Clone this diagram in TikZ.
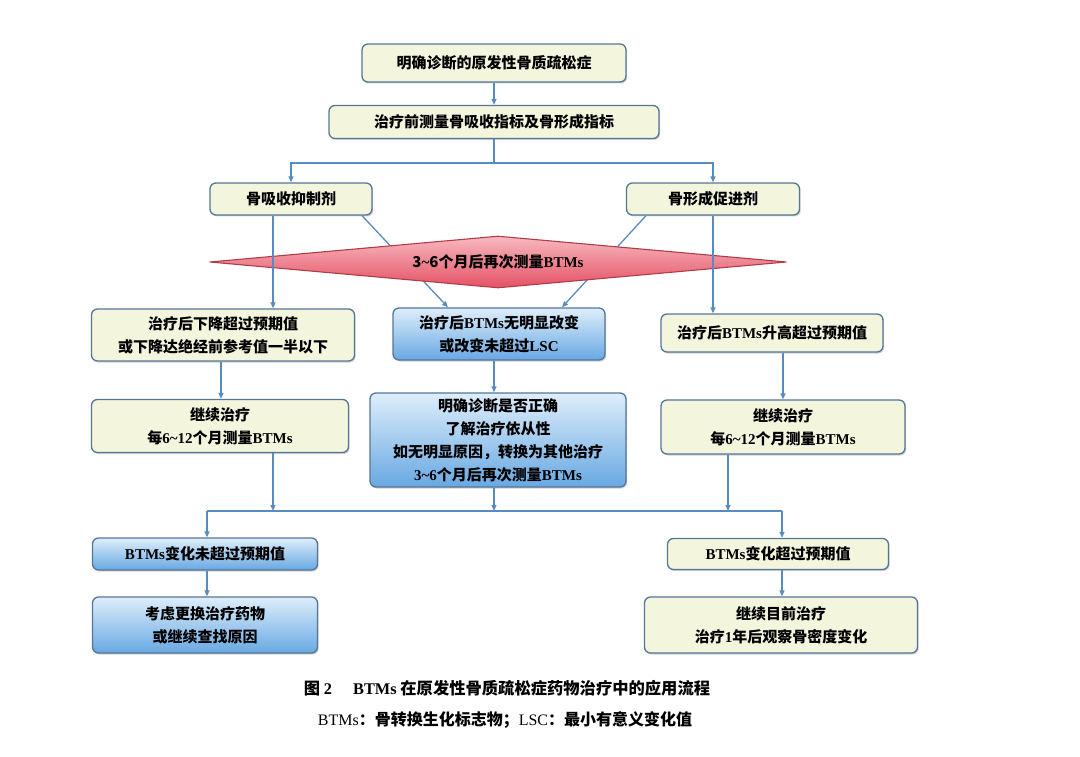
\documentclass[tikz,border=0pt]{standalone}
\usepackage{fontspec}
\setmainfont{Liberation Serif}
\newfontfamily\cjk{Noto Sans CJK SC}
\usetikzlibrary{arrows.meta,shapes.geometric,shadows}
\newcommand\lat[1]{{\rmfamily\bfseries #1}}
\definecolor{creamfill}{RGB}{243,245,221}
\definecolor{boxline}{RGB}{84,118,152}
\definecolor{conn}{RGB}{88,140,192}
\definecolor{bluetop}{RGB}{222,238,251}
\definecolor{bluebot}{RGB}{104,168,226}
\definecolor{pinktop}{RGB}{248,184,192}
\definecolor{pinkbot}{RGB}{228,82,100}
\definecolor{pinkline}{RGB}{176,60,72}
\begin{document}
\begin{tikzpicture}[x=1pt,y=-1pt,
  base/.style={draw=boxline, line width=1.3pt, rounded corners=6pt, align=center,
    inner sep=0pt, font=\cjk\bfseries\fontsize{15}{23}\selectfont,
    drop shadow={shadow xshift=1.2pt, shadow yshift=-1.5pt, opacity=0.18, fill=black}},
  ybox/.style={base, fill=creamfill},
  bbox/.style={base, top color=bluetop, bottom color=bluebot},
  dia/.style={diamond, aspect=11, inner sep=0pt, draw=pinkline, line width=1.1pt,
    top color=pinktop, bottom color=pinkbot, font=\cjk\bfseries\fontsize{15}{20}\selectfont},
  con/.style={draw=conn, line width=1.3pt},
  arr/.style={con, -{Triangle[length=6pt,width=5pt]}}
]
\useasboundingbox (0,0) rectangle (1080,757);

% coordinates for vertical connector positions
\coordinate (xl) at (273,0);
\coordinate (xa) at (221,0);
\coordinate (xm) at (494,0);
\coordinate (xr) at (728,0);
\coordinate (xb) at (783,0);
\coordinate (dl1) at (362,0);
\coordinate (dl2) at (448,0);
\coordinate (dr1) at (646,0);
\coordinate (dr2) at (562,0);
\coordinate (split) at (494,163);
\coordinate (mL) at (207,511);
\coordinate (mR) at (782,511);
\coordinate (mM) at (494,511);

% nodes
\node[ybox, minimum width=264pt, minimum height=38pt] (n1) at (494,63) {明确诊断的原发性骨质疏松症};
\node[ybox, minimum width=330pt, minimum height=33pt] (n2) at (494,122) {治疗前测量骨吸收指标及骨形成指标};
\node[ybox, minimum width=162pt, minimum height=32pt] (n3) at (291,199) {骨吸收抑制剂};
\node[ybox, minimum width=173pt, minimum height=32pt] (n4) at (713,199) {骨形成促进剂};

\node[bbox, minimum width=212pt, minimum height=52pt] (m2) at (499,334) {治疗后\lat{BTMs}无明显改变\\或改变未超过\lat{LSC}};

% diagonals go under the diamond
\draw[arr] (n3.south -| dl1) -- (m2.north -| dl2);
\draw[arr] (n4.south -| dr1) -- (m2.north -| dr2);

\node[dia, minimum width=577pt, minimum height=52pt] (d) at (498,262) {3\lat{\textasciitilde}6个月后再次测量\lat{BTMs}};

\node[ybox, minimum width=263pt, minimum height=52pt] (m1) at (223,335) {治疗后下降超过预期值\\或下降达绝经前参考值一半以下};
\node[ybox, minimum width=222pt, minimum height=38pt] (m3) at (772,333) {治疗后\lat{BTMs}升高超过预期值};

\node[ybox, minimum width=257pt, minimum height=53pt] (r1) at (220,426) {继续治疗\\每\lat{6\textasciitilde 12}个月测量\lat{BTMs}};
\node[bbox, minimum width=256pt, minimum height=94pt] (r2) at (498,440) {明确诊断是否正确\\了解治疗依从性\\如无明显原因，转换为其他治疗\\\lat{3\textasciitilde 6}个月后再次测量\lat{BTMs}};
\node[ybox, minimum width=244pt, minimum height=54pt] (r3) at (783,427) {继续治疗\\每\lat{6\textasciitilde 12}个月测量\lat{BTMs}};

\node[bbox, minimum width=225pt, minimum height=32pt] (b1) at (205,554) {\lat{BTMs}变化未超过预期值};
\node[ybox, minimum width=221pt, minimum height=31pt] (b2) at (778,554) {\lat{BTMs}变化超过预期值};
\node[bbox, minimum width=225pt, minimum height=56pt] (c1) at (205,625) {考虑更换治疗药物\\或继续查找原因};
\node[ybox, minimum width=273pt, minimum height=56pt] (c2) at (781,625) {继续目前治疗\\治疗\lat{1}年后观察骨密度变化};

% connectors
\draw[arr] (n1) -- (n2);
\draw[con] (n2.south) -- (split);
\draw[arr] (split) -| (n3.north);
\draw[arr] (split) -| (n4.north);
\draw[arr] (n3.south -| xl) -- (m1.north -| xl);
\draw[arr] (n4.south) -- (n4.south |- m3.north);
\draw[arr] (m1.south -| xa) -- (r1.north -| xa);
\draw[arr] (m2.south -| xm) -- (r2.north -| xm);
\draw[arr] (m3.south -| xb) -- (r3.north -| xb);
\draw[arr] (r1.south -| xl) -- (mL -| xl);
\draw[arr] (r2.south -| xm) -- (mM);
\draw[arr] (r3.south -| xr) -- (mL -| xr);
\draw[con] (mL) -- (mR);
\draw[arr] (mL) -- (b1.north -| mL);
\draw[arr] (mR) -- (b2.north -| mR);
\draw[arr] (b1.south -| mL) -- (c1.north -| mL);
\draw[arr] (b2.south -| mR) -- (c2.north -| mR);

% caption
\node[font=\cjk\bfseries\fontsize{16.3}{20}\selectfont, anchor=center] (cap1) at (507,688)
  {图 \lat{2}\hspace{1.3em}\lat{BTMs} 在原发性骨质疏松症药物治疗中的应用流程};
\node[font=\cjk\bfseries\fontsize{16}{18}\selectfont, anchor=center] (cap2) at (505,720)
  {{\rmfamily\mdseries BTMs}：骨转换生化标志物；{\rmfamily\mdseries LSC}：最小有意义变化值};
\end{tikzpicture}
\end{document}
